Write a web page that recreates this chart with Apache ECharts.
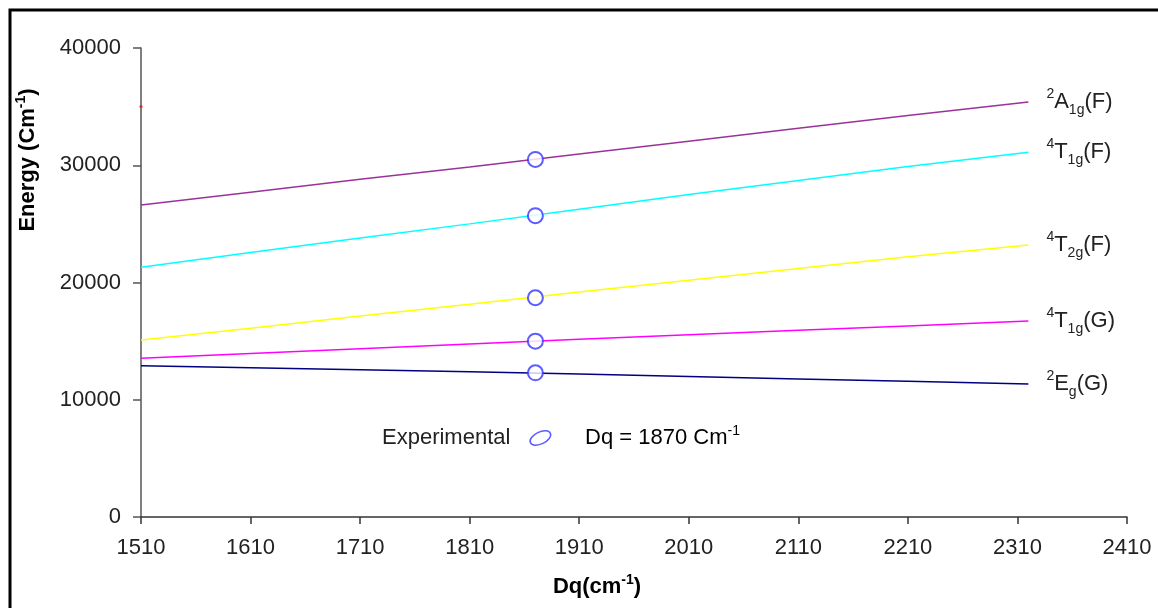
<!DOCTYPE html>
<html>
<head>
<meta charset="utf-8">
<script src="https://cdn.jsdelivr.net/npm/echarts@6/dist/echarts.min.js"></script>
<style>
  html, body { margin: 0; padding: 0; background: #fff; }
  #chart { width: 1158px; height: 608px; }
</style>
</head>
<body>
<div id="chart"></div>
<script>
  // Dq (cm-1) sampling of the curves
  const dq = [1510, 1610, 1710, 1810, 1910, 2010, 2110, 2210, 2320]
  // energies (Cm-1) per state
  const a1gF = [26600, 27700, 28800, 29850, 30950, 32050, 33150, 34250, 35400]
  const t1gF = [21300, 22550, 23800, 25000, 26250, 27500, 28700, 29900, 31100]
  const t2gF = [15100, 16100, 17150, 18150, 19200, 20200, 21200, 22200, 23200]
  const t1gG = [13550, 13950, 14350, 14760, 15150, 15540, 15920, 16300, 16720]
  const egG = [12900, 12720, 12550, 12380, 12200, 11990, 11780, 11570, 11340]
  // experimental bands at Dq = 1870
  const expDq = 1870
  const expE = [30500, 25700, 18700, 15000, 12300]
  // stray point on the y axis
  const strayPt = [[1510, 35000]]

  const stateNames = ['2A1g(F)', '4T1g(F)', '4T2g(F)', '4T1g(G)', '2Eg(G)']
  const stateLabels = [
    '{sup|2}{b|A}{sub|1g}{b|(F)}',
    '{sup|4}{b|T}{sub|1g}{b|(F)}',
    '{sup|4}{b|T}{sub|2g}{b|(F)}',
    '{sup|4}{b|T}{sub|1g}{b|(G)}',
    '{sup|2}{b|E}{sub|g}{b|(G)}'
  ]
  const stateValues = [a1gF, t1gF, t2gF, t1gG, egG]
  const lineColors = ['#993399', '#00ffff', '#ffff00', '#ff00ff', '#000080']

  const FONT = '"Liberation Sans", Arial, sans-serif'
  const richLabel = {
    b: { fontSize: 22, fontFamily: FONT, color: '#222', lineHeight: 30 },
    sup: { fontSize: 14, fontFamily: FONT, color: '#222', lineHeight: 14, verticalAlign: 'top' },
    sub: { fontSize: 14, fontFamily: FONT, color: '#222', lineHeight: 16, verticalAlign: 'bottom' }
  }

  const chart = echarts.init(document.getElementById('chart'))

  const series = stateValues.map((vals, i) => ({
    type: 'line',
    name: stateNames[i],
    data: dq.map((x, j) => [x, vals[j]]),
    showSymbol: false,
    symbol: 'none',
    silent: true,
    lineStyle: { color: lineColors[i], width: 1.5 },
    endLabel: {
      show: true,
      distance: 18,
      formatter: () => stateLabels[i],
      rich: richLabel
    },
    z: 2
  }))

  series.push({
    type: 'scatter',
    name: 'Experimental',
    data: expE.map(e => [expDq, e]),
    symbol: 'emptyCircle',
    symbolSize: 15,
    itemStyle: { color: '#3333ff', borderColor: '#3333ff', borderWidth: 1.5 },
    z: 3
  })

  series.push({
    type: 'scatter',
    name: 'stray',
    data: strayPt,
    symbol: 'rect',
    symbolSize: [3, 2],
    itemStyle: { color: '#ff0000' },
    z: 4
  })

  // tilted ellipse for the legend key
  const ellipseIcon = 'path://M-9.97,4.65 A11,6 -25 1,1 9.97,-4.65 A11,6 -25 1,1 -9.97,4.65 Z'

  chart.setOption({
    animation: false,
    backgroundColor: '#fff',
    textStyle: { fontFamily: FONT },
    grid: { left: 141, right: 31, top: 48, bottom: 91, containLabel: false },
    legend: {
      data: [{
        name: 'Experimental',
        icon: ellipseIcon,
        itemStyle: { color: 'transparent', borderColor: '#3333ff', borderWidth: 1.5 }
      }],
      left: 377,
      top: 422,
      align: 'right',
      itemWidth: 22,
      itemHeight: 14,
      selectedMode: false,
      textStyle: { fontSize: 22, color: '#222', fontFamily: FONT, padding: [0, 14, 0, 0] }
    },
    xAxis: {
      type: 'value',
      min: 1510,
      max: 2410,
      interval: 100,
      splitLine: { show: false },
      axisLine: { onZero: false, lineStyle: { color: '#333', width: 1.5 } },
      axisTick: { show: true, inside: false, length: 7, lineStyle: { color: '#333', width: 1.5 } },
      axisLabel: { margin: 20, fontSize: 22, color: '#222', fontFamily: FONT, formatter: v => String(v) }
    },
    yAxis: {
      type: 'value',
      min: 0,
      max: 40000,
      interval: 10000,
      splitLine: { show: false },
      axisLine: { show: true, lineStyle: { color: '#555', width: 1.5 } },
      axisTick: { show: true, inside: false, length: 8, lineStyle: { color: '#555', width: 1.5 } },
      axisLabel: { margin: 20, fontSize: 22, color: '#222', fontFamily: FONT, formatter: v => String(v) }
    },
    graphic: [
      {
        type: 'rect',
        shape: { x: 10, y: 10, width: 1170, height: 620 },
        style: { fill: 'none', stroke: '#000', lineWidth: 3 },
        silent: true
      },
      {
        type: 'text',
        x: 28,
        y: 160,
        rotation: Math.PI / 2,
        style: {
          text: '{b|Energy (Cm}{s|-1}{b|)}',
          align: 'center',
          verticalAlign: 'middle',
          rich: {
            b: { fontSize: 22, fontWeight: 'bold', fontFamily: FONT, color: '#111', lineHeight: 28 },
            s: { fontSize: 14, fontWeight: 'bold', fontFamily: FONT, color: '#111', lineHeight: 14, verticalAlign: 'top' }
          }
        }
      },
      {
        type: 'text',
        x: 597,
        y: 587,
        style: {
          text: '{b|Dq(cm}{s|-1}{b|)}',
          align: 'center',
          verticalAlign: 'middle',
          rich: {
            b: { fontSize: 22, fontWeight: 'bold', fontFamily: FONT, color: '#111', lineHeight: 28 },
            s: { fontSize: 14, fontWeight: 'bold', fontFamily: FONT, color: '#111', lineHeight: 14, verticalAlign: 'top' }
          }
        }
      },
      {
        type: 'text',
        x: 585,
        y: 438,
        style: {
          text: '{b|Dq = 1870 Cm}{s|-1}',
          align: 'left',
          verticalAlign: 'middle',
          rich: {
            b: { fontSize: 22, fontFamily: FONT, color: '#222', lineHeight: 28 },
            s: { fontSize: 14, fontFamily: FONT, color: '#222', lineHeight: 14, verticalAlign: 'top' }
          }
        }
      }
    ],
    series: series
  })
</script>
</body>
</html>
